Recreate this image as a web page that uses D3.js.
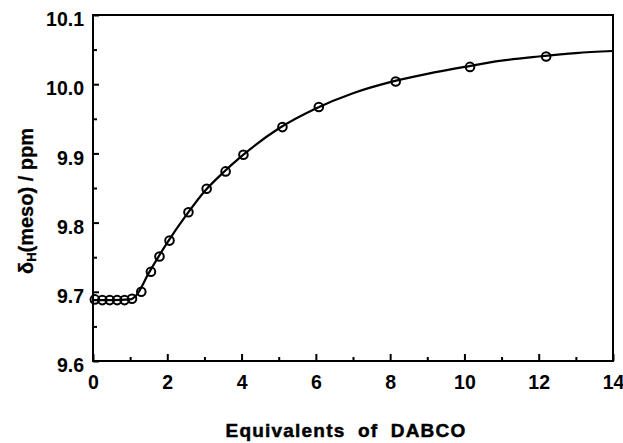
<!DOCTYPE html>
<html>
<head>
<meta charset="utf-8">
<script src="https://cdn.jsdelivr.net/npm/d3@7"></script>
<style>
  body { margin: 0; background: white; }
  text { font-family: "Liberation Sans", Arial, sans-serif; font-weight: bold; fill: black; }
</style>
</head>
<body>
<script>
// measured points
var eqDabco = [0.05, 0.25, 0.45, 0.65, 0.85, 1.05, 1.3, 1.56, 1.79, 2.06,
               2.57, 3.06, 3.57, 4.05, 5.1, 6.08, 8.15, 10.15, 12.2];
var shift = [9.689, 9.688, 9.688, 9.688, 9.688, 9.690, 9.700, 9.729, 9.751, 9.774,
             9.815, 9.849, 9.874, 9.898, 9.938, 9.967, 10.004, 10.025, 10.040];

// fitted curve
var fitX = [0, 0.5, 1.0, 1.15, 1.5, 2.0, 2.5, 3.0, 3.5, 4.0, 5.0, 6.0, 7.0,
            8.0, 9.0, 10.0, 11.0, 12.0, 13.0, 14.0];
var fitY = [9.688, 9.688, 9.689, 9.694, 9.727, 9.771, 9.810, 9.845, 9.872, 9.896,
            9.936, 9.965, 9.987, 10.003, 10.015, 10.025, 10.034, 10.040, 10.045, 10.048];

var xTicks = [0, 2, 4, 6, 8, 10, 12, 14];
var yTicks = [9.6, 9.7, 9.8, 9.9, 10.0, 10.1];

var width = 623, height = 443;
var margin = { top: 15, right: 10, bottom: 82, left: 93 };

var svg = d3.select('body')
  .append('svg')
  .attr('width', width)
  .attr('height', height);

var x = d3.scaleLinear()
  .domain([0, 14])
  .range([margin.left, width - margin.right]);

var y = d3.scaleLinear()
  .domain([9.6, 10.1])
  .range([height - margin.bottom, margin.top]);

// frame
svg.append('rect')
  .attr('x', x(0))
  .attr('y', y(10.1))
  .attr('width', x(14) - x(0))
  .attr('height', y(9.6) - y(10.1))
  .attr('fill', 'none')
  .attr('stroke', 'black')
  .attr('stroke-width', 2);

// bottom axis, ticks pointing inward
var xAxis = d3.axisBottom(x)
  .tickValues(xTicks)
  .tickFormat(d3.format('d'))
  .tickSizeInner(-7)
  .tickSizeOuter(0)
  .tickPadding(14);

svg.append('g')
  .attr('transform', 'translate(0,' + y(9.6) + ')')
  .call(xAxis);

var xMinor = d3.axisBottom(x)
  .tickValues(d3.range(1, 14, 2))
  .tickFormat('')
  .tickSizeInner(-4)
  .tickSizeOuter(0);

svg.append('g')
  .attr('transform', 'translate(0,' + y(9.6) + ')')
  .call(xMinor);

var yAxis = d3.axisLeft(y)
  .tickValues(yTicks)
  .tickFormat(d3.format('.1f'))
  .tickSizeInner(-6)
  .tickSizeOuter(0)
  .tickPadding(9);

svg.append('g')
  .attr('class', 'yaxis')
  .attr('transform', 'translate(' + x(0) + ',0)')
  .call(yAxis);

var yMinor = d3.axisLeft(y)
  .tickValues([9.65, 9.75, 9.85, 9.95, 10.05])
  .tickFormat('')
  .tickSizeInner(-4)
  .tickSizeOuter(0);

svg.append('g')
  .attr('transform', 'translate(' + x(0) + ',0)')
  .call(yMinor);

svg.selectAll('.domain').remove();
svg.selectAll('.tick line').attr('stroke', 'black').attr('stroke-width', 2);
svg.selectAll('.tick text')
  .style('font-family', '"Liberation Sans", Arial, sans-serif')
  .style('font-weight', 'bold')
  .style('font-size', '19.5px');
svg.selectAll('.yaxis .tick text').attr('dy', '0.55em');

// fitted line
var line = d3.line()
  .x(function(d, i) { return x(fitX[i]); })
  .y(function(d, i) { return y(fitY[i]); })
  .curve(d3.curveMonotoneX);

svg.append('path')
  .datum(fitX)
  .attr('d', line)
  .attr('fill', 'none')
  .attr('stroke', 'black')
  .attr('stroke-width', 2.2);

// data circles
svg.selectAll('circle.pt')
  .data(eqDabco)
  .enter()
  .append('circle')
  .attr('class', 'pt')
  .attr('cx', function(d) { return x(d); })
  .attr('cy', function(d, i) { return y(shift[i]); })
  .attr('r', 4.3)
  .attr('fill', 'none')
  .attr('stroke', 'black')
  .attr('stroke-width', 2);

// axis titles
svg.append('text')
  .attr('x', 346)
  .attr('y', 437)
  .attr('text-anchor', 'middle')
  .style('font-size', '19px')
  .style('letter-spacing', '1.2px')
  .style('word-spacing', '6px')
  .style('stroke', 'black')
  .style('stroke-width', 0.5)
  .text('Equivalents of DABCO');

var yl = svg.append('text')
  .attr('transform', 'translate(33,201) rotate(-90)')
  .attr('text-anchor', 'middle')
  .style('font-size', '20px')
  .style('stroke', 'black')
  .style('stroke-width', 0.3);
yl.append('tspan').text('δ');
yl.append('tspan').attr('baseline-shift', '-25%').style('font-size', '13px').text('H');
yl.append('tspan').text('(meso) / ppm');
</script>
</body>
</html>
